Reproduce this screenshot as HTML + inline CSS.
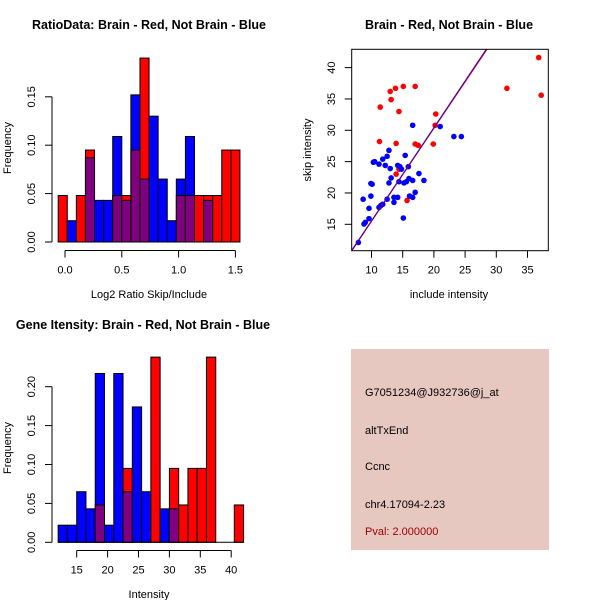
<!DOCTYPE html>
<html><head><meta charset="utf-8"><style>
html,body{margin:0;padding:0;background:#fff;}
svg{display:block;font-family:"Liberation Sans",sans-serif;}
</style></head><body>
<svg id="c" width="600" height="600" viewBox="0 0 600 600" xmlns="http://www.w3.org/2000/svg">
<rect width="600" height="600" fill="#fff"/>
<g id="h1"></g>
<g id="h2"></g>
<g id="sc"></g>
<g>
<rect x="351" y="349" width="198" height="201" fill="#e6c8c0"/>
<text x="365" y="396" font-size="11" fill="#000">G7051234@J932736@j_at</text>
<text x="365" y="434" font-size="11" fill="#000">altTxEnd</text>
<text x="365" y="470" font-size="11" fill="#000">Ccnc</text>
<text x="365" y="508" font-size="11" fill="#000">chr4.17094-2.23</text>
<text x="365" y="535" font-size="11" fill="#a00000">Pval: 2.000000</text>
</g>
</svg>
<script>
// ---- data ----
const ratioBinStart = -0.06;
const ratioBinWidth = 0.08;
const ratioRed  = [0.048,0,0.048,0.095,0,0,0.048,0.048,0.095,0.19,0,0,0,0.048,0.048,0.048,0.048,0.048,0.095,0.095];
const ratioBlue = [0,0.022,0,0.087,0.043,0.043,0.109,0.043,0.152,0.065,0.13,0.065,0.022,0.065,0.109,0,0.043,0,0,0];
const ratioXTicks = [0,0.5,1.0,1.5];
const ratioXLabels = ["0.0","0.5","1.0","1.5"];
const ratioYTicks = [0,0.05,0.10,0.15];
const ratioYLabels = ["0.00","0.05","0.10","0.15"];

const intBinStart = 12;
const intBinWidth = 1.5;
const intRed  = [0,0,0,0,0.048,0,0,0.095,0,0,0.238,0,0.095,0.048,0.095,0.095,0.238,0,0,0.048];
const intBlue = [0.022,0.022,0.065,0.043,0.217,0.022,0.217,0.065,0.174,0.065,0,0.043,0.043,0,0,0,0,0,0,0];
const intXTicks = [15,20,25,30,35,40];
const intYTicks = [0,0.05,0.10,0.15,0.20];
const intYLabels = ["0.00","0.05","0.10","0.15","0.20"];

const redX = [11.28,11.4,13.0,13.15,13.85,14.4,13.95,13.95,14.4,15.1,17.0,17.0,17.5,15.7,19.9,20.3,20.2,31.7,36.8,37.2];
const redY = [28.2,33.7,36.2,34.9,36.7,33.0,27.9,23.0,23.8,37.0,37.0,27.8,27.6,18.8,27.8,32.6,30.8,36.7,41.6,35.6];
const blueX = [7.9,8.66,8.8,9.0,9.6,9.6,9.9,9.9,10.1,10.3,10.5,11.2,11.2,11.5,11.8,11.8,12.2,12.5,12.5,12.8,12.8,13.0,13.15,13.6,13.6,14.2,14.2,14.4,14.55,14.8,15.1,15.2,15.4,15.6,15.9,16.0,16.1,16.6,16.6,16.6,17.0,17.6,18.4,21.0,23.2,24.4];
const blueY = [12.1,19.0,15.05,15.3,15.9,17.55,19.5,21.5,21.4,24.9,25.0,24.6,17.7,18.0,25.4,18.2,24.4,19.0,25.85,26.8,21.6,23.9,22.4,18.5,19.3,24.4,19.3,21.8,24.2,23.8,16.0,21.6,26.0,21.8,24.2,22.3,19.5,30.8,22.0,19.3,20.1,23.1,22.0,30.6,29.0,29.0];
const fitRed  = [0.74,1.48];   // intercept, slope
const fitBlue = [0.60,1.49];
const scXTicks = [10,15,20,25,30,35];
const scYTicks = [15,20,25,30,35,40];

// ---- helpers ----
const NS="http://www.w3.org/2000/svg";
function mk(parent,tag,attrs,text){
  const e=document.createElementNS(NS,tag);
  for(const k in attrs) e.setAttribute(k,attrs[k]);
  if(text!==undefined) e.textContent=text;
  parent.appendChild(e); return e;
}
const PURPLE="#800080";

function histogram(g,cfg){
  const {binStart,binWidth,red,blue,sx,sy,xTicks,xLabels,yTicks,yLabels,axisY,title,titleX,titleY,xlab,xlabY,ylabX,ylabY,tickLabX} = cfg;
  for(let i=0;i<red.length;i++){
    const x0=sx(binStart+i*binWidth), x1=sx(binStart+(i+1)*binWidth);
    const r=red[i], b=blue[i];
    const hi=Math.max(r,b), lo=Math.min(r,b);
    const col = r>=b ? "#ff0000" : "#0000ff";
    let e=mk(g,"rect",{x:x0,y:sy(hi),width:x1-x0,height:sy(0)-sy(hi),fill:col,stroke:"#000","stroke-width":1});
    
    
    if(lo>0){
      e=mk(g,"rect",{x:x0,y:sy(lo),width:x1-x0,height:sy(0)-sy(lo),fill:PURPLE,stroke:"#000","stroke-width":1});
      
      
    }
  }
  mk(g,"line",{x1:sx(binStart),x2:sx(binStart+red.length*binWidth),y1:sy(0),y2:sy(0),stroke:"#000"});
  const xa=mk(g,"g",{});
  
  
  mk(xa,"line",{x1:sx(xTicks[0]),x2:sx(xTicks[xTicks.length-1]),y1:axisY,y2:axisY,stroke:"#000"});
  xTicks.forEach((t,i)=>{
    mk(xa,"line",{x1:sx(t),x2:sx(t),y1:axisY,y2:axisY+7,stroke:"#000"});
    const l=mk(xa,"text",{x:sx(t),y:axisY+23,"font-size":11,"text-anchor":"middle"},xLabels[i]);
    
    
  });
  const ya=mk(g,"g",{});
  
  
  const ax=52;
  mk(ya,"line",{x1:ax,x2:ax,y1:sy(yTicks[0]),y2:sy(yTicks[yTicks.length-1]),stroke:"#000"});
  yTicks.forEach((t,i)=>{
    mk(ya,"line",{x1:ax-7,x2:ax,y1:sy(t),y2:sy(t),stroke:"#000"});
    const l=mk(ya,"text",{x:tickLabX,y:sy(t),"font-size":11,"text-anchor":"middle",transform:`rotate(-90 ${tickLabX} ${sy(t)})`},yLabels[i]);
    
    
  });
  let e=mk(g,"text",{x:titleX,y:titleY,"font-size":12.5,"font-weight":"bold","text-anchor":"middle"},title);
  
  
  e=mk(g,"text",{x:149,y:xlabY,"font-size":11,"text-anchor":"middle"},xlab);
  
  
  e=mk(g,"text",{x:ylabX,y:ylabY,"font-size":11,"text-anchor":"middle",transform:`rotate(-90 ${ylabX} ${ylabY})`},"Frequency");
  
  
}

const rsx=v=>65+(v-0)*113.6;
const rsy=v=>242-v*968;
histogram(document.getElementById('h1'),{binStart:ratioBinStart,binWidth:ratioBinWidth,red:ratioRed,blue:ratioBlue,sx:rsx,sy:rsy,
  xTicks:ratioXTicks,xLabels:ratioXLabels,yTicks:ratioYTicks,yLabels:ratioYLabels,axisY:250.5,
  title:"RatioData: Brain - Red, Not Brain - Blue",titleX:149,titleY:29,xlab:"Log2 Ratio Skip/Include",xlabY:298,ylabX:11,ylabY:148,tickLabX:35});

const isx=v=>76.7+(v-15)*6.18;
const isy=v=>542.3-v*778;
histogram(document.getElementById('h2'),{binStart:intBinStart,binWidth:intBinWidth,red:intRed,blue:intBlue,sx:isx,sy:isy,
  xTicks:intXTicks,xLabels:intXTicks.map(String),yTicks:intYTicks,yLabels:intYLabels,axisY:550.5,
  title:"Gene Itensity: Brain - Red, Not Brain - Blue",titleX:143,titleY:329,xlab:"Intensity",xlabY:598,ylabX:11,ylabY:448,tickLabX:35});

(function(){
  const g=document.getElementById('sc');
  const L=351.7,T=49.3,R=548.3,B=250.7;
  const sx=v=>371.5+(v-10)*6.24;
  const sy=v=>224.3-(v-15)*6.267;
  mk(g,"defs",{}).innerHTML='<clipPath id="scclip"><rect x="'+L+'" y="'+T+'" width="'+(R-L)+'" height="'+(B-T)+'"/></clipPath>';
  const pts=mk(g,"g",{"clip-path":"url(#scclip)"});
  redX.forEach((x,i)=>{
    const c=mk(pts,"circle",{cx:sx(x),cy:sy(redY[i]),r:2.8,fill:"#ff0000"});
    
    
  });
  blueX.forEach((x,i)=>{
    const c=mk(pts,"circle",{cx:sx(x),cy:sy(blueY[i]),r:2.8,fill:"#0000ff"});
    
    
  });
  [[fitRed,"#ff0000"],[fitBlue,"#5000a0"]].forEach(([f,col])=>{
    const x0=5,x1=40;
    const l=mk(pts,"line",{x1:sx(x0),y1:sy(f[0]+f[1]*x0),x2:sx(x1),y2:sy(f[0]+f[1]*x1),stroke:col,"stroke-width":1.2});
    
    
  });
  mk(g,"rect",{x:L,y:T,width:R-L,height:B-T,fill:"none",stroke:"#000"});
  scXTicks.forEach(t=>{
    mk(g,"line",{x1:sx(t),x2:sx(t),y1:B,y2:B+7,stroke:"#000"});
    const l=mk(g,"text",{x:sx(t),y:B+23,"font-size":11,"text-anchor":"middle"},String(t));
    
    
  });
  scYTicks.forEach(t=>{
    mk(g,"line",{x1:L-7,x2:L,y1:sy(t),y2:sy(t),stroke:"#000"});
    const lx=335;
    const l=mk(g,"text",{x:lx,y:sy(t),"font-size":11,"text-anchor":"middle",transform:`rotate(-90 ${lx} ${sy(t)})`},String(t));
    
    
  });
  let e=mk(g,"text",{x:449,y:29,"font-size":12.5,"font-weight":"bold","text-anchor":"middle"},"Brain - Red, Not Brain - Blue");
  
  
  e=mk(g,"text",{x:449,y:298,"font-size":11,"text-anchor":"middle"},"include intensity");
  
  
  e=mk(g,"text",{x:311,y:150,"font-size":11,"text-anchor":"middle",transform:"rotate(-90 311 150)"},"skip intensity");
  
  
})();
</script>
</body></html>
